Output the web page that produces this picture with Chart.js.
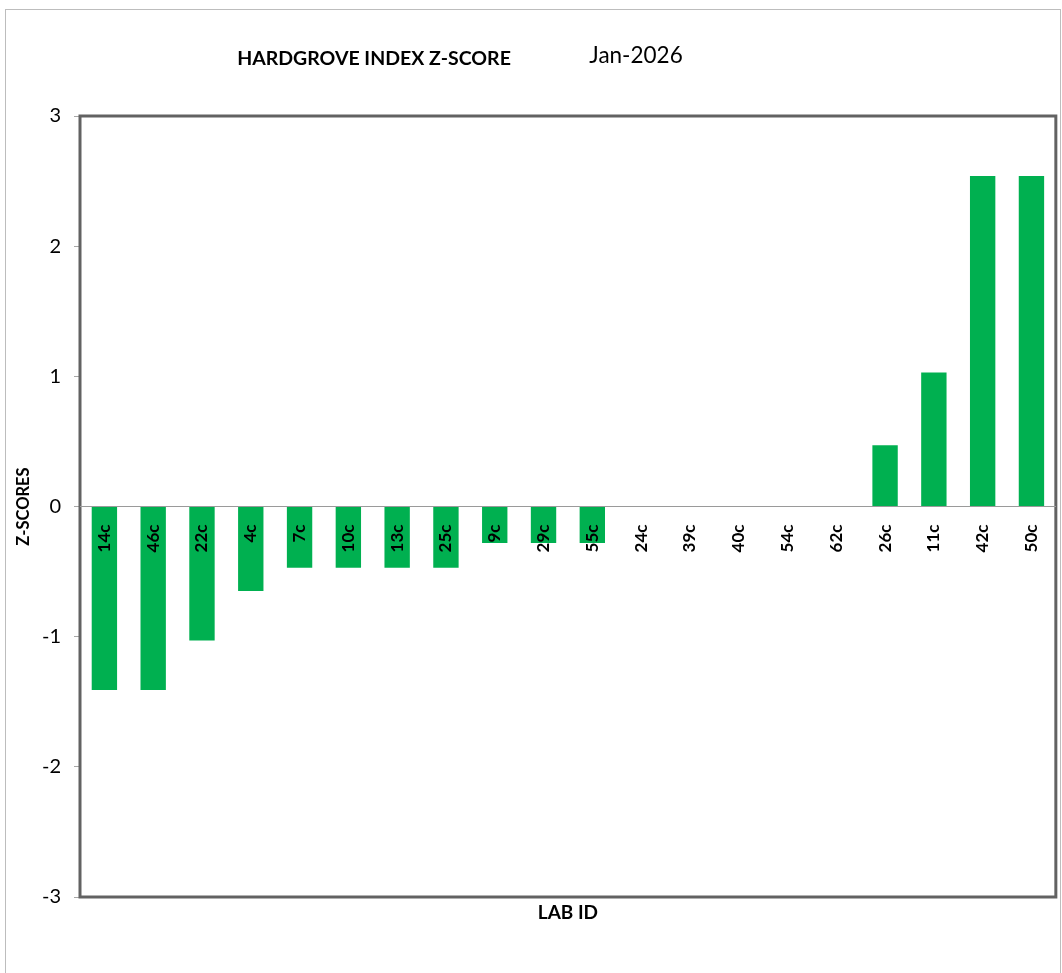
<!DOCTYPE html>
<html>
<head>
<meta charset="utf-8">
<script src="https://cdn.jsdelivr.net/npm/chart.js@4.4.1/dist/chart.umd.min.js"></script>
<style>
    body { margin: 0; background: #fff; }
    #wrap { position: absolute; left: 0; top: 0; width: 1062px; height: 973px; }
    #frame { position: absolute; left: 5px; top: 9px; width: 1054px; height: 980px; border: 1px solid #bdbdbd; }
</style>
</head>
<body>
<div id="frame"></div>
<div id="wrap"><canvas id="zChart"></canvas></div>
<script>
const labIds = ['14c', '46c', '22c', '4c', '7c', '10c', '13c', '25c', '9c', '29c',
    '55c', '24c', '39c', '40c', '54c', '62c', '26c', '11c', '42c', '50c'];
const zScores = [-1.41, -1.41, -1.03, -0.65, -0.47, -0.47, -0.47, -0.47, -0.28, -0.28,
    -0.28, 0, 0, 0, 0, 0, 0.47, 1.03, 2.54, 2.54];
const yTicks = [-3, -2, -1, 0, 1, 2, 3];

const chartTitle = 'HARDGROVE INDEX Z-SCORE';
const chartDate = 'Jan-2026';
const fontName = 'Lato, "Open Sans", sans-serif';

// titulo y marco del area de trazado
const framePlugin = {
    id: 'framePlugin',
    afterDatasetsDraw(chart) {
        const {ctx, chartArea} = chart;
        ctx.save();
        ctx.strokeStyle = '#626262';
        ctx.lineWidth = 3;
        ctx.strokeRect(chartArea.left, chartArea.top,
            chartArea.right - chartArea.left, chartArea.bottom - chartArea.top);
        ctx.fillStyle = '#000';
        ctx.textAlign = 'center';
        ctx.textBaseline = 'middle';
        ctx.font = 'bold 19.5px ' + fontName;
        ctx.fillText(chartTitle, 374, 59);
        ctx.font = '22.5px ' + fontName;
        ctx.fillText(chartDate, 636, 56);
        ctx.restore();
    }
};

const config = {
    type: 'bar',
    data: {
        labels: labIds,
        datasets: [{
            data: zScores,
            backgroundColor: '#00b050',
            borderWidth: 0,
            barPercentage: 1,
            categoryPercentage: 0.52,
            xAxisID: 'x'
        }]
    },
    options: {
        responsive: true,
        maintainAspectRatio: false,
        animation: false,
        layout: {
            padding: {top: 116, right: 3, left: 0, bottom: 0}
        },
        plugins: {
            legend: {display: false},
            tooltip: {enabled: false}
        },
        scales: {
            x: {
                type: 'category',
                position: {y: 0},
                grid: {display: false},
                // etiquetas y linea cero encima de las barras
                border: {display: true, color: '#9a9a9a', width: 1, z: 1},
                ticks: {
                    z: 1,
                    autoSkip: false,
                    minRotation: 90,
                    maxRotation: 90,
                    padding: 10,
                    color: '#000',
                    font: {family: fontName, size: 17, weight: 'bold'}
                }
            },
            x2: {
                type: 'category',
                labels: labIds,
                position: 'bottom',
                grid: {display: false},
                border: {display: false},
                ticks: {display: false},
                title: {
                    display: true,
                    text: 'LAB ID',
                    color: '#000',
                    font: {family: fontName, size: 19, weight: 'bold'},
                    padding: {top: 0, bottom: 49}
                },
                afterFit(scale) {
                    scale.height = 76;
                }
            },
            y: {
                min: -3,
                max: 3,
                afterBuildTicks(scale) {
                    scale.ticks = yTicks.map(v => ({value: v}));
                },
                grid: {
                    display: true,
                    drawOnChartArea: false,
                    drawTicks: true,
                    tickLength: 6,
                    color: '#a6a6a6'
                },
                border: {display: false},
                ticks: {
                    padding: 13,
                    color: '#000',
                    font: {family: fontName, size: 20}
                },
                title: {
                    display: true,
                    text: 'Z-SCORES',
                    color: '#000',
                    font: {family: fontName, size: 16.5, weight: 'bold'},
                    padding: {top: 14, bottom: 0}
                },
                afterFit(scale) {
                    scale.width = 80;
                }
            }
        }
    },
    plugins: [framePlugin]
};

const zChart = new Chart(document.getElementById('zChart'), config);
</script>
</body>
</html>
